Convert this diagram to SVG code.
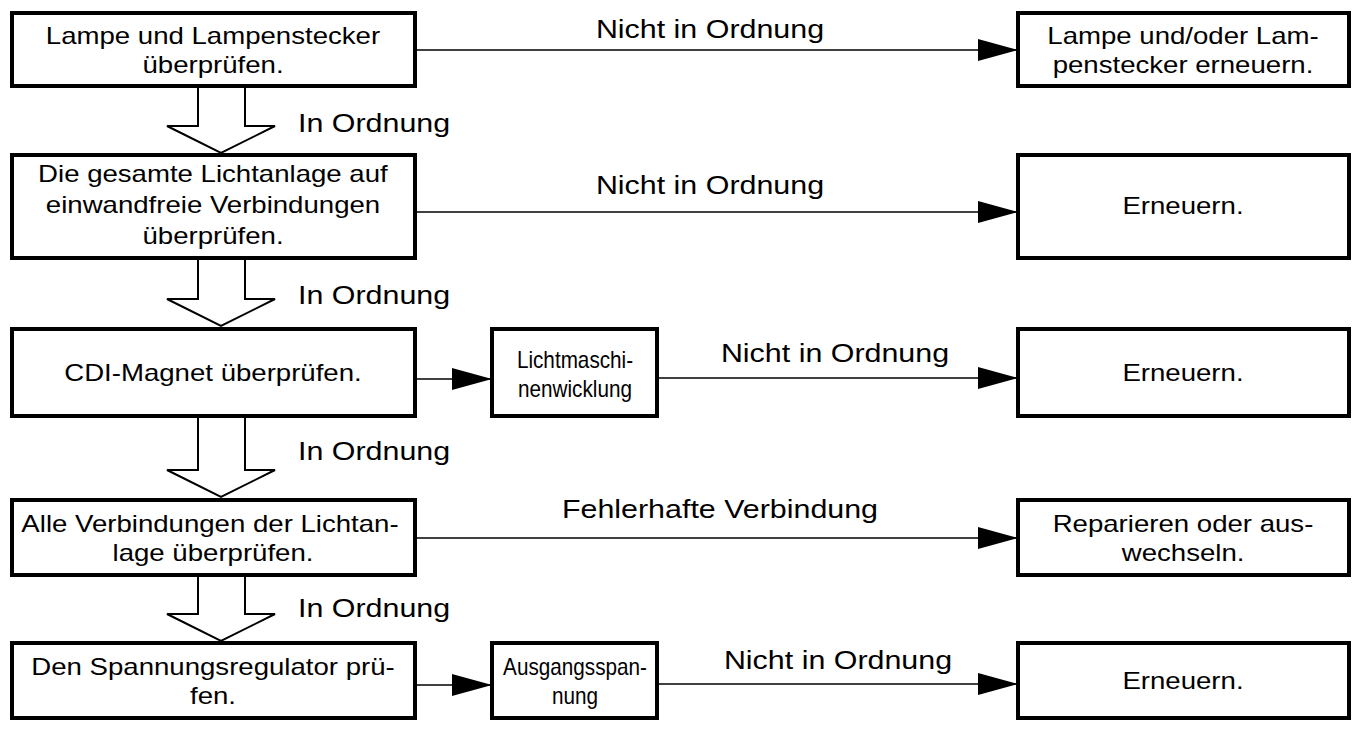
<svg xmlns="http://www.w3.org/2000/svg" width="1362" height="737" viewBox="0 0 1362 737">
<style>
.b{fill:#fff;stroke:#000;stroke-width:4}
.t{font-family:"Liberation Sans",Arial,sans-serif;font-size:23px;text-anchor:middle;fill:#000;transform-box:fill-box;transform-origin:center;transform:scaleX(1.2)}
.n{transform:scaleX(0.9)}
.l{font-family:"Liberation Sans",Arial,sans-serif;font-size:26px;fill:#000;transform-box:fill-box;transform-origin:center;transform:scaleX(1.17)}
.o{transform-origin:left}
.c{stroke:#000;stroke-width:1.5;fill:none}
.h{fill:#fff;stroke:#000;stroke-width:2}
</style>
<defs>
<marker id="m" markerWidth="40" markerHeight="22" refX="40" refY="11" orient="auto" markerUnits="userSpaceOnUse"><path d="M0,0L40,11L0,22z" fill="#000"/></marker></defs>
<g id="connectors">
<path class="c" d="M415,50H1018" marker-end="url(#m)"/>
<path class="c" d="M415,212H1018" marker-end="url(#m)"/>
<path class="c" d="M415,379H492" marker-end="url(#m)"/>
<path class="c" d="M657,378H1018" marker-end="url(#m)"/>
<path class="c" d="M415,538H1018" marker-end="url(#m)"/>
<path class="c" d="M415,685H492" marker-end="url(#m)"/>
<path class="c" d="M657,684H1018" marker-end="url(#m)"/>
<path class="h" d="M198,88V126H167L221,153L275,126H245V88"/>
<path class="h" d="M198,260V299H167L221,326L275,299H245V260"/>
<path class="h" d="M198,418V470H167L221,497L275,470H245V418"/>
<path class="h" d="M198,577V614H167L221,641L275,614H245V577"/>
<text class="l o" x="298" y="132">In Ordnung</text>
<text class="l o" x="298" y="304">In Ordnung</text>
<text class="l o" x="298" y="460">In Ordnung</text>
<text class="l o" x="298" y="617">In Ordnung</text>
<text class="l" x="710" y="38" text-anchor="middle">Nicht in Ordnung</text>
<text class="l" x="710" y="194" text-anchor="middle">Nicht in Ordnung</text>
<text class="l" x="835" y="362" text-anchor="middle">Nicht in Ordnung</text>
<text class="l" x="720" y="518" text-anchor="middle">Fehlerhafte Verbindung</text>
<text class="l" x="838" y="669" text-anchor="middle">Nicht in Ordnung</text>
</g>
<g id="n1"><rect class="b" x="12" y="13" width="403" height="73"/><text class="t" x="213" y="44">Lampe und Lampenstecker</text><text class="t" x="213" y="73">überprüfen.</text></g>
<g id="n2"><rect class="b" x="12" y="155" width="403" height="103"/><text class="t" x="213" y="182">Die gesamte Lichtanlage auf</text><text class="t" x="213" y="213">einwandfreie Verbindungen</text><text class="t" x="213" y="244">überprüfen.</text></g>
<g id="n3"><rect class="b" x="12" y="329" width="403" height="87"/><text class="t" x="213" y="381">CDI-Magnet überprüfen.</text></g>
<g id="n4"><rect class="b" x="12" y="500" width="403" height="75"/><text class="t" x="210" y="532">Alle Verbindungen der Lichtan-</text><text class="t" x="213" y="561">lage überprüfen.</text></g>
<g id="n5"><rect class="b" x="12" y="643" width="403" height="75"/><text class="t" x="213" y="675">Den Spannungsregulator prü-</text><text class="t" x="213" y="704">fen.</text></g>
<g id="m1"><rect class="b" x="492" y="329" width="165" height="87"/><text class="t n" x="575" y="368">Lichtmaschi-</text><text class="t n" x="575" y="397">nenwicklung</text></g>
<g id="m2"><rect class="b" x="492" y="643" width="165" height="75"/><text class="t n" x="575" y="675">Ausgangsspan-</text><text class="t n" x="575" y="704">nung</text></g>
<g id="r1"><rect class="b" x="1018" y="13" width="331" height="73"/><text class="t" x="1183" y="44">Lampe und/oder Lam-</text><text class="t" x="1183" y="73">penstecker erneuern.</text></g>
<g id="r2"><rect class="b" x="1018" y="155" width="331" height="103"/><text class="t" x="1183" y="214">Erneuern.</text></g>
<g id="r3"><rect class="b" x="1018" y="329" width="331" height="87"/><text class="t" x="1183" y="381">Erneuern.</text></g>
<g id="r4"><rect class="b" x="1018" y="500" width="331" height="75"/><text class="t" x="1183" y="532">Reparieren oder aus-</text><text class="t" x="1183" y="561">wechseln.</text></g>
<g id="r5"><rect class="b" x="1018" y="643" width="331" height="75"/><text class="t" x="1183" y="689">Erneuern.</text></g>
</svg>
